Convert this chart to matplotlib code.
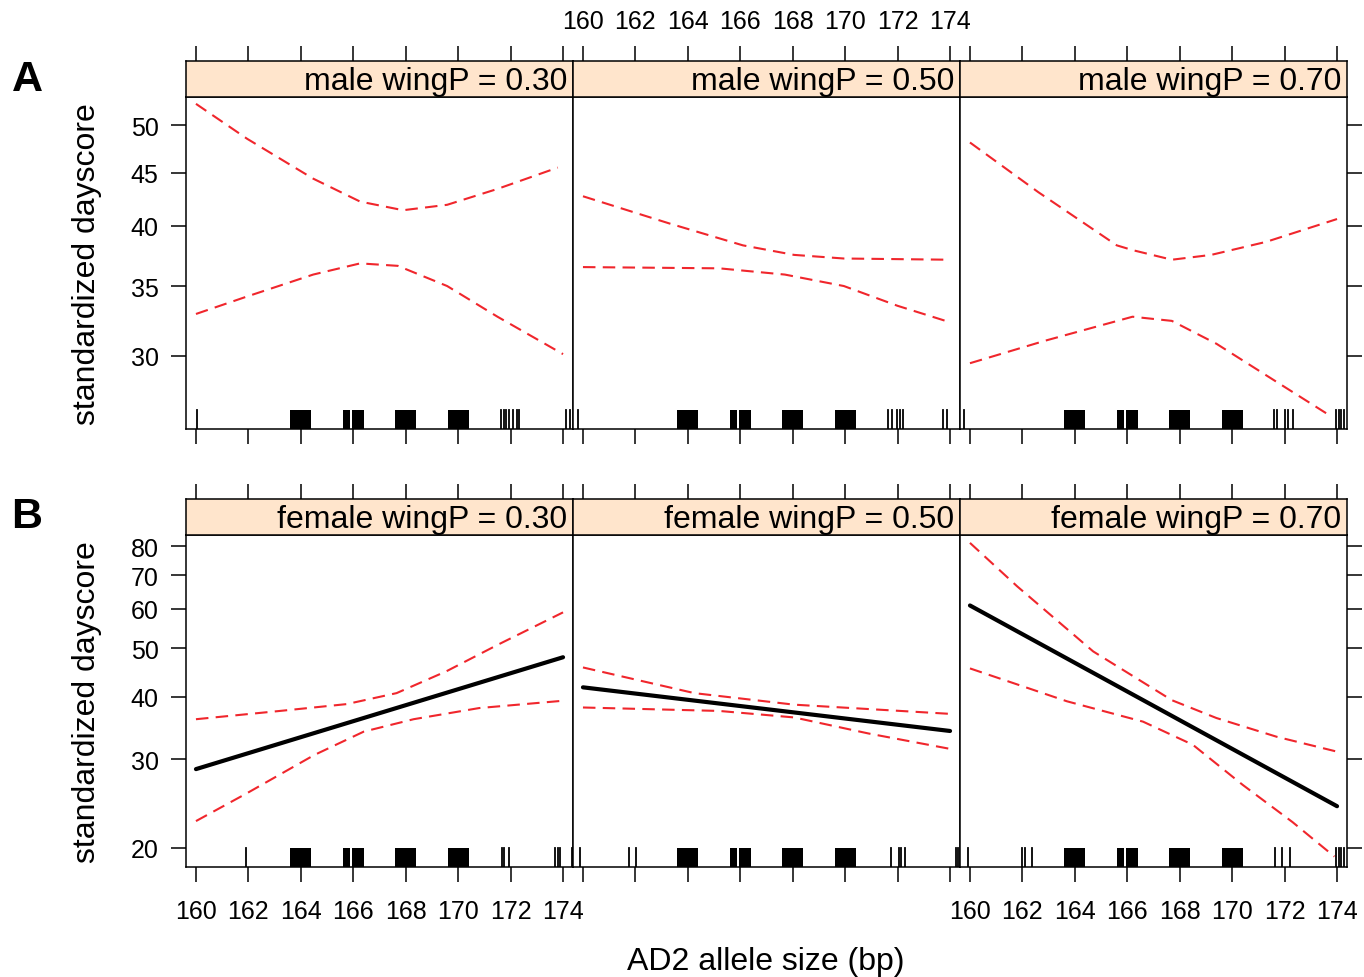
import matplotlib
matplotlib.use("Agg")
import matplotlib.pyplot as plt
from matplotlib.ticker import FixedLocator, FixedFormatter, NullLocator

plt.rcParams['font.family'] = ['Liberation Sans', 'DejaVu Sans']

# ---- data ----
allele_ticks = [160, 162, 164, 166, 168, 170, 172, 174]
male_yticks = [30, 35, 40, 45, 50]
female_yticks = [20, 30, 40, 50, 60, 70, 80]
wingP = ['0.30', '0.50', '0.70']

# male, wingP = 0.30 (confidence band only)
m30_up_x = [160, 161.95, 164.47, 166.26, 167.9, 169.58, 171.5, 173.8]
m30_up_y = [52.4, 48.5, 44.4, 42.2, 41.4, 41.9, 43.4, 45.5]
m30_lo_x = [160, 161.95, 164.47, 166.26, 167.7, 169.58, 171.5, 174]
m30_lo_y = [32.9, 34.2, 35.9, 36.8, 36.6, 35.0, 32.7, 30.1]

# male, wingP = 0.50
m50_up_x = [160, 163.3, 166.1, 168.05, 169.95, 174]
m50_up_y = [42.7, 40.2, 38.3, 37.5, 37.2, 37.1]
m50_lo_x = [160, 165.2, 167.7, 169.95, 172.0, 174]
m50_lo_y = [36.5, 36.4, 35.9, 35.0, 33.5, 32.3]

# male, wingP = 0.70
m70_up_x = [160, 162.6, 165.6, 166.2, 167.7, 169.2, 171.3, 174]
m70_up_y = [48.1, 43.1, 38.3, 37.9, 37.1, 37.5, 38.6, 40.6]
m70_lo_x = [160, 162.85, 166.2, 167.7, 169.4, 171.7, 173.8]
m70_lo_y = [29.5, 31.0, 32.7, 32.4, 30.8, 28.3, 26.2]

# female, wingP = 0.30
f30_fit_x = [160, 174]
f30_fit_y = [28.7, 48.0]
f30_up_x = [160, 163.2, 165.75, 167.65, 169.55, 171.5, 174]
f30_up_y = [36.1, 37.5, 38.7, 40.7, 45.0, 50.8, 59.0]
f30_lo_x = [160, 161.95, 164.5, 166.4, 168.3, 170.8, 174]
f30_lo_y = [22.6, 25.7, 30.6, 34.1, 36.1, 38.0, 39.3]

# female, wingP = 0.50
f50_fit_x = [160, 174]
f50_fit_y = [41.8, 34.2]
f50_up_x = [160, 164.25, 168.05, 174]
f50_up_y = [45.8, 40.7, 38.6, 37.0]
f50_lo_x = [160, 165.2, 168.05, 170.9, 174]
f50_lo_y = [38.1, 37.5, 36.4, 33.8, 31.5]

# female, wingP = 0.70
f70_fit_x = [160, 174]
f70_fit_y = [60.9, 24.2]
f70_up_x = [160, 161.8, 164.7, 167.7, 169.4, 171.7, 174]
f70_up_y = [81.2, 66.5, 49.3, 39.4, 36.3, 33.3, 31.1]
f70_lo_x = [160, 163.7, 166.6, 168.5, 170.4, 172.3, 173.9]
f70_lo_y = [45.6, 39.2, 35.7, 32.1, 26.7, 22.5, 19.2]

# rug: dense (jittered) groups drawn as spans, plus single ticks
rug_blocks = [(163.6, 164.4), (165.6, 165.88), (165.95, 166.4), (167.6, 168.4), (169.6, 170.4)]
rug_m30 = [160.03, 171.64, 171.73, 171.82, 171.92, 172.11, 172.24, 172.33, 174.12, 174.27]
rug_m50 = [159.8, 171.65, 171.78, 171.97, 172.1, 172.2, 173.75, 173.9]
rug_m70 = [159.77, 171.58, 171.7, 172.02, 172.12, 172.33, 173.97, 174.06, 174.16, 174.25]
rug_f30 = [161.9, 171.67, 171.76, 171.92, 173.7, 173.8, 173.9, 174.34]
rug_f50 = [159.9, 161.76, 162.02, 171.76, 172.04, 172.14, 172.3, 174.24, 174.3]
rug_f70 = [159.94, 162.0, 162.1, 162.36, 171.64, 171.9, 172.2, 173.97, 174.06, 174.16, 174.25]

male_panels = [
    (None, None, m30_up_x, m30_up_y, m30_lo_x, m30_lo_y, rug_m30),
    (None, None, m50_up_x, m50_up_y, m50_lo_x, m50_lo_y, rug_m50),
    (None, None, m70_up_x, m70_up_y, m70_lo_x, m70_lo_y, rug_m70),
]
female_panels = [
    (f30_fit_x, f30_fit_y, f30_up_x, f30_up_y, f30_lo_x, f30_lo_y, rug_f30),
    (f50_fit_x, f50_fit_y, f50_up_x, f50_up_y, f50_lo_x, f50_lo_y, rug_f50),
    (f70_fit_x, f70_fit_y, f70_up_x, f70_up_y, f70_lo_x, f70_lo_y, rug_f70),
]

# ---- layout (pixels of a 1364x978 canvas) ----
W, H = 1364, 978
fig = plt.figure(figsize=(W / 100, H / 100), dpi=100)

def frac(x0, y0, x1, y1):
    return [x0 / W, 1 - y1 / H, (x1 - x0) / W, (y1 - y0) / H]

col_edges = [186, 573, 960, 1347]
rows = [
    dict(sex='male', panels=male_panels, yticks=male_yticks, ylim=(25.5, 53.2),
         strip=(62, 98), axes=(98, 430)),
    dict(sex='female', panels=female_panels, yticks=female_yticks, ylim=(18.3, 84.2),
         strip=(500, 536), axes=(536, 868)),
]

xlim = (159.62, 174.38)
tick_len = 10.8
lw_frame = 1.1
red = '#f0262c'
strip_col = '#ffe5cc'
fs_tick = 18

for r, row in enumerate(rows):
    for c in range(3):
        fit_x, fit_y, up_x, up_y, lo_x, lo_y, rug = row['panels'][c]
        x0, x1 = col_edges[c], col_edges[c + 1]

        ax = fig.add_axes(frac(x0, row['axes'][0], x1, row['axes'][1]))
        ax.set_yscale('log')
        ax.set_xlim(*xlim)
        ax.set_ylim(*row['ylim'])

        ax.plot(up_x, up_y, color=red, lw=1.5, dashes=(6, 3.5))
        ax.plot(lo_x, lo_y, color=red, lw=1.5, dashes=(6, 3.5))
        if fit_x is not None:
            ax.plot(fit_x, fit_y, color='black', lw=3, solid_capstyle='round')

        for b0, b1 in rug_blocks:
            ax.axvspan(b0, b1, ymin=0, ymax=0.058, color='black', lw=0)
        for v in rug:
            ax.axvline(v, ymin=0, ymax=0.058, color='black', lw=1.3)

        ax.xaxis.set_major_locator(FixedLocator(allele_ticks))
        ax.yaxis.set_major_locator(FixedLocator(row['yticks']))
        ax.yaxis.set_major_formatter(FixedFormatter([str(t) for t in row['yticks']]))
        ax.yaxis.set_minor_locator(NullLocator())
        ax.xaxis.set_minor_locator(NullLocator())

        ax.tick_params(axis='x', direction='out', length=tick_len, width=lw_frame,
                       top=False, bottom=True, labelsize=fs_tick, pad=12,
                       labelbottom=(r == 1 and c != 1))
        ax.tick_params(axis='y', direction='out', length=tick_len, width=lw_frame,
                       left=(c == 0), right=(c == 2), labelleft=(c == 0),
                       labelright=False, labelsize=fs_tick, pad=9)
        for s in ax.spines.values():
            s.set_linewidth(lw_frame)

        # strip above the panel
        sx = fig.add_axes(frac(x0, row['strip'][0], x1, row['strip'][1]))
        sx.set_facecolor(strip_col)
        sx.set_xlim(*xlim)
        sx.set_yticks([])
        sx.xaxis.set_major_locator(FixedLocator(allele_ticks))
        sx.tick_params(axis='x', direction='out', length=tick_len, width=lw_frame,
                       top=True, bottom=False, labelbottom=False,
                       labeltop=(r == 0 and c == 1), labelsize=fs_tick, pad=9)
        for s in sx.spines.values():
            s.set_linewidth(lw_frame)
        sx.text(0.985, 0.45, f"{row['sex']} wingP = {wingP[c]}", transform=sx.transAxes,
                ha='right', va='center', fontsize=23)

# axis titles and panel letters
fig.text(87 / W, 1 - 264 / H, 'standardized dayscore', rotation=90,
         ha='center', va='center', fontsize=23)
fig.text(87 / W, 1 - 702 / H, 'standardized dayscore', rotation=90,
         ha='center', va='center', fontsize=23)
fig.text(766 / W, 1 - 962 / H, 'AD2 allele size (bp)', ha='center', va='center', fontsize=23)
fig.text(27 / W, 1 - 80 / H, 'A', ha='center', va='center', fontsize=31, fontweight='bold')
fig.text(27 / W, 1 - 517 / H, 'B', ha='center', va='center', fontsize=31, fontweight='bold')

fig.savefig('out.png', dpi=100)
